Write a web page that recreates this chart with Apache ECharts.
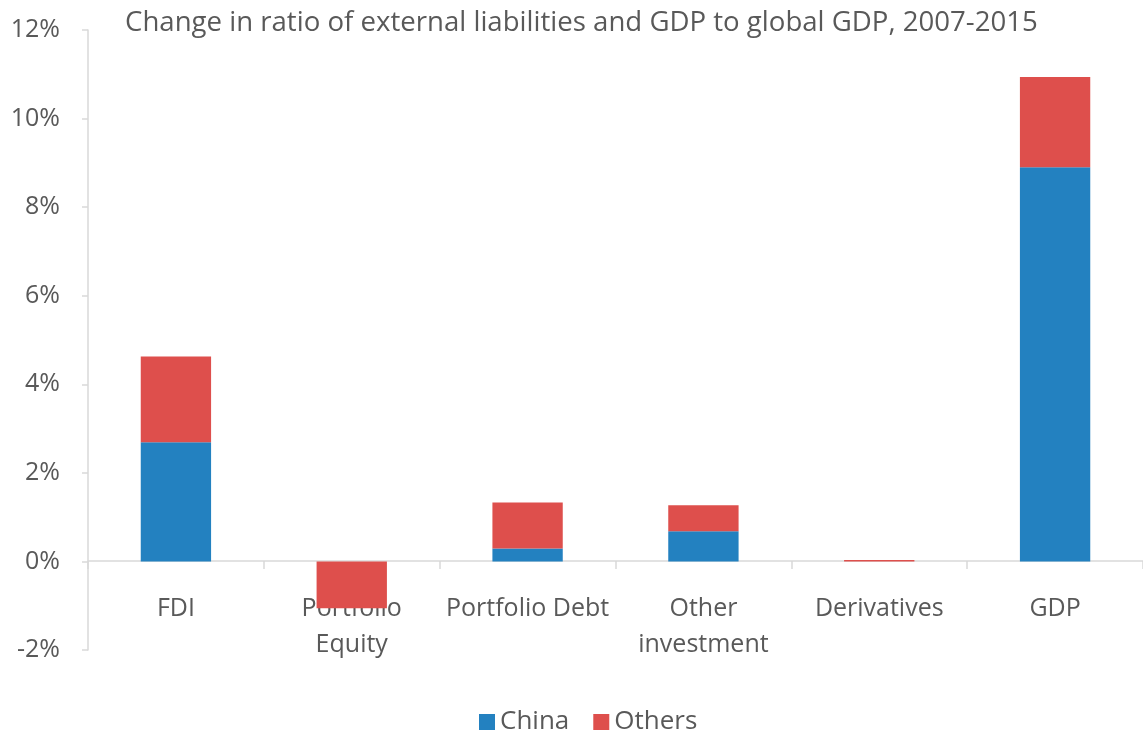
<!DOCTYPE html>
<html>
<head>
<meta charset="utf-8">
<script src="https://cdn.jsdelivr.net/npm/echarts@6/dist/echarts.min.js"></script>
<style>
  html, body { margin: 0; padding: 0; background: #fff; }
  #chart { width: 1143px; height: 732px; }
</style>
</head>
<body>
<div id="chart"></div>
<script>
var categories = ["FDI", "Portfolio\nEquity", "Portfolio Debt", "Other\ninvestment", "Derivatives", "GDP"];
var chinaValues = [2.69, 0, 0.29, 0.68, 0, 8.90];
var othersValues = [1.94, -1.06, 1.04, 0.59, 0.03, 2.04];
var yTicks = { min: -2, max: 12, step: 2 };

var textColor = "#595959";
var font = "'Open Sans', sans-serif";

var chart = echarts.init(document.getElementById("chart"));
var option = {
    animation: false,
    title: {
        text: "Change in ratio of external liabilities and GDP to global GDP, 2007-2015",
        left: 120,
        top: 4,
        textStyle: { color: textColor, fontSize: 27.6, fontWeight: "normal", fontFamily: font }
    },
    legend: {
        top: 704,
        left: 474,
        itemWidth: 16,
        itemHeight: 16,
        itemGap: 24,
        icon: "rect",
        textStyle: { color: textColor, fontSize: 26, fontFamily: font },
        data: ["China", "Others"]
    },
    grid: { left: 88, right: 0, top: 30, bottom: 82 },
    xAxis: {
        type: "category",
        data: categories,
        position: "bottom",
        offset: -89,
        axisLine: { onZero: false, lineStyle: { color: "#d9d9d9", width: 1.5 } },
        axisTick: { show: true, interval: 0, length: 8, lineStyle: { color: "#d9d9d9", width: 1.5 } },
        axisLabel: { interval: 0, color: textColor, fontSize: 25, fontFamily: font, margin: 30, lineHeight: 36 }
    },
    yAxis: {
        type: "value",
        min: yTicks.min,
        max: yTicks.max,
        interval: yTicks.step,
        axisLine: { show: true, lineStyle: { color: "#d9d9d9", width: 1.5 } },
        axisTick: { show: true, length: 6, lineStyle: { color: "#d9d9d9", width: 1.5 } },
        splitLine: { show: false },
        axisLabel: { color: textColor, fontSize: 25, fontFamily: font, margin: 28, formatter: "{value}%" }
    },
    series: [
        {
            name: "China",
            type: "bar",
            stack: "total",
            barWidth: "40%",
            itemStyle: { color: "#2381C0" },
            data: chinaValues
        },
        {
            name: "Others",
            type: "bar",
            stack: "total",
            barWidth: "40%",
            itemStyle: { color: "#DE4F4C" },
            data: othersValues
        }
    ]
};
chart.setOption(option);
</script>
</body>
</html>
